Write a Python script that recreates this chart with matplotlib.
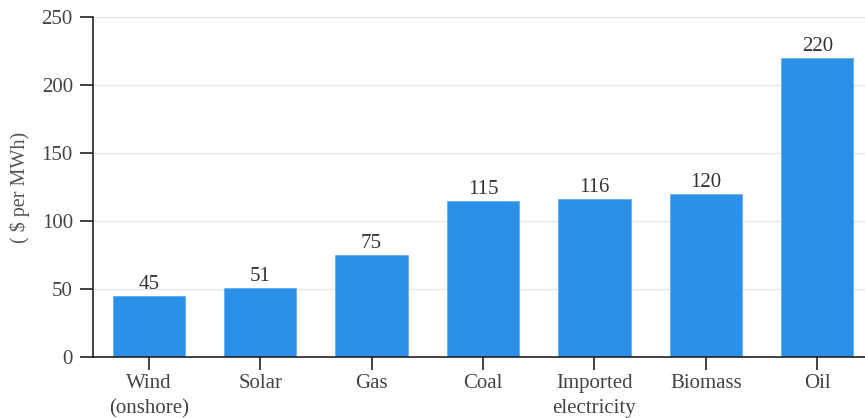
import matplotlib.pyplot as plt
import numpy as np

categories = ['Wind\n(onshore)', 'Solar', 'Gas', 'Coal', 'Imported\nelectricity', 'Biomass', 'Oil']
costs = [45, 51, 75, 115, 116, 120, 220]
y_ticks = [0, 50, 100, 150, 200, 250]

plt.rcParams['font.family'] = ['Liberation Serif', 'DejaVu Serif']

fig = plt.figure(figsize=(8.65, 4.18), dpi=100)
ax = fig.add_axes([93 / 865, 61 / 418, 780 / 865, 340 / 418])

x = np.arange(len(categories))
ax.bar(x, costs, width=0.65, color='#2b91e8', edgecolor='#5aaaf0', linewidth=0.5, zorder=2)

for xi, v in zip(x, costs):
    ax.text(xi, v + 1.5, str(v), ha='center', va='bottom', fontsize=15, color='#333333')

ax.set_xlim(-0.5, len(categories) - 0.5)
ax.set_ylim(0, 250)
ax.set_yticks(y_ticks)
ax.set_xticks(x)
ax.set_xticklabels(categories, linespacing=1.4)
ax.yaxis.grid(True, color='#e6e6e6', linewidth=1, zorder=0)
ax.set_axisbelow(True)

for s in ['top', 'right']:
    ax.spines[s].set_visible(False)
for s in ['left', 'bottom']:
    ax.spines[s].set_color('#222222')
    ax.spines[s].set_linewidth(1.2)

ax.tick_params(axis='both', length=9.5, width=1.2, color='#222222',
               labelsize=15, labelcolor='#444444')
ax.tick_params(axis='x', pad=3)
ax.tick_params(axis='y', pad=5)

ax.set_ylabel('( $ per MWh)', fontsize=14.5, color='#555555', labelpad=8)

fig.savefig('out.png', dpi=100)
